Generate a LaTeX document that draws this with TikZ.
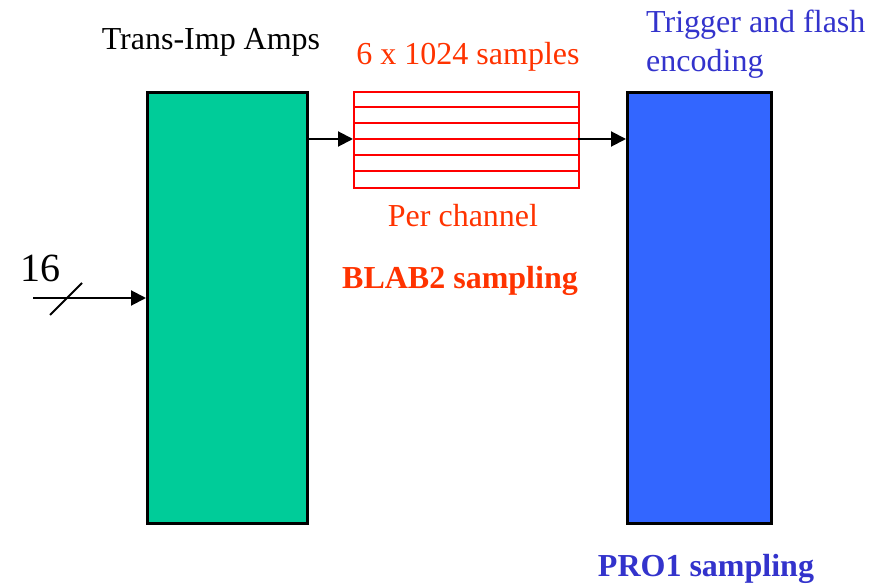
\documentclass[tikz,border=0pt]{standalone}
\usepackage{fontspec}
\setmainfont{Liberation Serif}
\usetikzlibrary{arrows.meta}
\definecolor{ampgreen}{HTML}{00CC99}
\definecolor{problue}{HTML}{3366FF}
\definecolor{txtblue}{HTML}{3333CC}
\definecolor{txtred}{HTML}{FF3300}
\begin{document}
\begin{tikzpicture}[x=1pt,y=-1pt,
  blk/.style={draw=black,line width=3pt,inner sep=0pt},
  arr/.style={line width=2pt,-{Triangle[length=15pt,width=15pt]}},
  lbl/.style={inner sep=0pt,font=\fontsize{32}{38}\selectfont}]
\useasboundingbox (0,0) rectangle (886,585);
% boxes
\node[blk,fill=ampgreen,minimum width=160pt,minimum height=431pt,anchor=north west] (amp) at (146,91) {};
\node[blk,fill=problue,minimum width=144pt,minimum height=431pt,anchor=north west] (pro) at (626,91) {};
\node[draw=red,line width=2pt,minimum width=225pt,minimum height=96pt,inner sep=0pt,anchor=north west] (buf) at (353,91) {};
\foreach \i in {1,...,5}{
  \draw[red,line width=2pt] ([yshift=-16*\i pt]buf.north west) -- ([yshift=-16*\i pt]buf.north east);
}
% arrows
\coordinate (a1) at (306,139);
\coordinate (a2) at (578,139);
\draw[arr] (a1) -- (a1 -| buf.west);
\draw[arr] (a2) -- (a2 -| pro.west);
\coordinate (in) at (33,298);
\draw[arr] (in) -- (in -| amp.west);
\coordinate (s1) at (50,315);
\coordinate (s2) at (82,283);
\draw[line width=1.8pt] (s1) -- (s2);
% labels
\node[lbl,font=\fontsize{40}{44}\selectfont] (n16) at (40,268) {16};
\node[lbl] (tamp) at (211,42) {Trans-Imp Amps};
\node[lbl,text=txtred] (tsamp) at (468,57) {6 x 1024 samples};
\node[lbl,text=txtred] (tper) at (463,216) {Per channel};
\node[lbl,text=txtred,font=\fontsize{32}{38}\selectfont\bfseries] (tblab) at (460,281) {BLAB2 sampling};
\node[lbl,text=txtblue,align=left,anchor=north west,font=\fontsize{32}{39}\selectfont] (ttrig) at (646,10) {Trigger and flash\\encoding};
\node[lbl,text=txtblue,font=\fontsize{32}{38}\selectfont\bfseries] (tpro) at (706,569) {PRO1 sampling};
\end{tikzpicture}
\end{document}
